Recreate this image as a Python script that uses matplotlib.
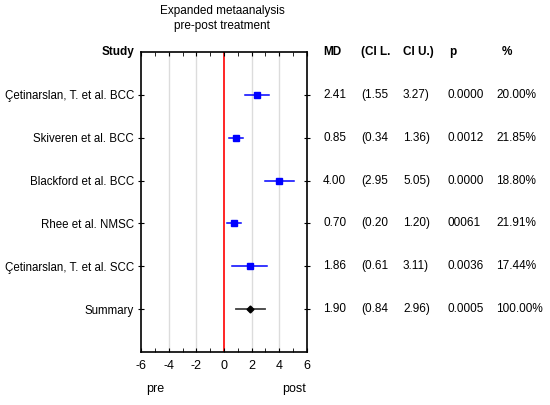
import matplotlib
matplotlib.use("Agg")
import matplotlib.pyplot as plt
import matplotlib.transforms as mtransforms
from matplotlib.ticker import MultipleLocator

# data
studies = ["Çetinarslan, T. et al. BCC", "Skiveren et al. BCC", "Blackford et al. BCC",
           "Rhee et al. NMSC", "Çetinarslan, T. et al. SCC", "Summary"]
md = [2.41, 0.85, 4.00, 0.70, 1.86, 1.90]
ci_low = [1.55, 0.34, 2.95, 0.20, 0.61, 0.84]
ci_up = [3.27, 1.36, 5.05, 1.20, 3.11, 2.96]
p_txt = ["0.0000", "0.0012", "0.0000", "00061", "0.0036", "0.0005"]
weight = [20.00, 21.85, 18.80, 21.91, 17.44, 100.00]

plt.rcParams['font.family'] = ['Liberation Sans', 'DejaVu Sans']
plt.rcParams['axes.unicode_minus'] = False
FS = 8.5

fig = plt.figure(figsize=(5.5, 4.05), dpi=100)
ax = fig.add_axes([141 / 550, 1 - 352 / 405, 166 / 550, 300 / 405])

rows = list(range(1, len(studies) + 1))

# grid + zero line
for gx in [-4, -2, 2, 4]:
    ax.axvline(gx, color='#dcdcdc', lw=1, zorder=0)
ax.axvline(0, color='red', lw=1.2, zorder=1)

for i, y in enumerate(rows):
    if studies[i] == "Summary":
        ax.plot([ci_low[i], ci_up[i]], [y, y], color='#404040', lw=1.3, zorder=2)
        ax.plot(md[i], y, marker='D', color='black', ms=3.5, zorder=3)
    else:
        ax.plot([ci_low[i], ci_up[i]], [y, y], color='#0000ff', lw=1.1, zorder=2)
        ax.plot(md[i], y, marker='s', color='#0000ff', ms=weight[i] * 0.22, zorder=3)

ax.set_xlim(-6, 6)
ax.set_ylim(len(studies) + 1, 0)
ax.xaxis.set_major_locator(MultipleLocator(2))
ax.xaxis.set_minor_locator(MultipleLocator(1))
ax.tick_params(axis='x', which='both', direction='in', top=True, length=3, labelsize=FS + 0.5, pad=6)
ax.set_yticks(rows)
ax.set_yticklabels(studies, fontsize=8.3)
ax.tick_params(axis='y', direction='inout', right=True, length=4, pad=3)
for s in ax.spines.values():
    s.set_linewidth(1.2)

# header
ax.text(-6.5, 0, "Study", ha='right', va='center', fontsize=8.5, fontweight='bold')
fig.text(222 / 550, 1 - 11 / 405, "Expanded metaanalysis", ha='center', va='center', fontsize=FS)
fig.text(222 / 550, 1 - 26 / 405, "pre-post treatment", ha='center', va='center', fontsize=FS)

# table columns
trans = mtransforms.blended_transform_factory(fig.transFigure, ax.transData)
col_x = [323, 361, 403, 448, 496]
heads = ["MD", "(CI L.", "CI U.)", "p", "%"]
head_x = [323, 361, 403, 449, 502]
for hx, h in zip(head_x, heads):
    ax.text(hx / 550, 0, h, transform=trans, ha='left', va='center', fontsize=FS, fontweight='bold')
for i, y in enumerate(rows):
    vals = ["%.2f" % md[i], "(%.2f" % ci_low[i], "%.2f)" % ci_up[i], p_txt[i], "%.2f%%" % weight[i]]
    for cx, v in zip(col_x, vals):
        ax.text(cx / 550, y, v, transform=trans, ha='left', va='center', fontsize=FS)

fig.text(155 / 550, 1 - 389 / 405, "pre", ha='center', va='center', fontsize=FS + 0.5)
fig.text(294 / 550, 1 - 389 / 405, "post", ha='center', va='center', fontsize=FS + 0.5)

fig.savefig("out.png", dpi=100)
